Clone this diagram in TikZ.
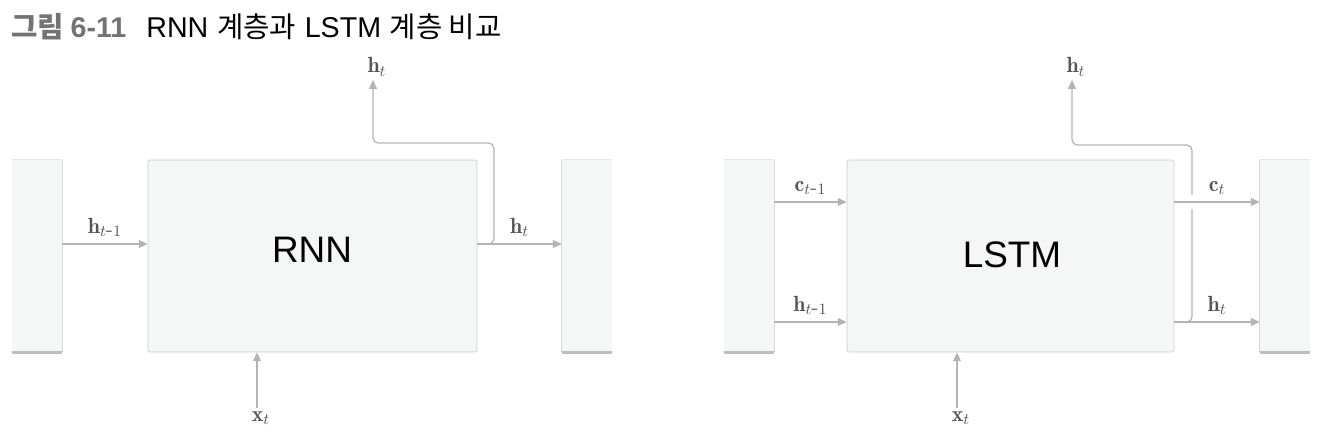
\documentclass[tikz,border=0pt]{standalone}
\usepackage{fontspec}
\usetikzlibrary{arrows.meta}

\newfontfamily\krfont{Noto Sans CJK KR}
\newfontfamily\boxfont{Liberation Sans}

\definecolor{boxfill}{RGB}{245,246,246}
\definecolor{boxline}{RGB}{205,205,205}
\definecolor{sidetop}{RGB}{230,230,230}
\definecolor{sideedge}{RGB}{215,215,215}
\definecolor{sidebottom}{RGB}{190,190,190}
\definecolor{arrowgray}{RGB}{180,180,180}
\definecolor{lblgray}{RGB}{85,85,85}
\definecolor{titlegray}{RGB}{115,115,115}

\tikzset{
    layer/.style={draw=boxline, fill=boxfill, line width=0.5pt, rounded corners=1pt,
        minimum height=3.84cm, inner sep=0pt},
    layertext/.style={inner sep=0pt, font=\boxfont\fontsize{21}{24}\selectfont},
    side/.style={fill=boxfill, minimum width=1cm, minimum height=3.84cm, inner sep=0pt},
    arr/.style={draw=arrowgray, line width=0.7pt, -{Triangle[length=5pt,width=4.5pt]}},
    lbl/.style={text=lblgray, inner sep=2pt, font=\fontsize{12.5}{15}\selectfont}
}

\begin{document}
\begin{tikzpicture}[x=0.02cm, y=-0.02cm]
    \useasboundingbox (0,0) rectangle (1322,440);

    % Title
    \node[anchor=base west, inner sep=0pt, font=\fontsize{16.3}{19}\selectfont] (title) at (11,37)
        {{\color{titlegray}\krfont\bfseries 그림 \boxfont\bfseries 6-11}\hspace{0.7em}%
         {\boxfont RNN} {\krfont 계층과} {\boxfont LSTM} {\krfont 계층 비교}};

    % ---------------- RNN ----------------
    \node[side] (rprev) at (37,256) {};
    \draw[sidetop, line width=0.5pt] (rprev.north west) -- (rprev.north east);
    \draw[sideedge, line width=0.9pt] (rprev.north east) -- (rprev.south east);
    \draw[sidebottom, line width=1.4pt] (rprev.south west) -- (rprev.south east);

    \node[side] (rnext) at (587,256) {};
    \draw[sidetop, line width=0.5pt] (rnext.north west) -- (rnext.north east);
    \draw[sideedge, line width=0.9pt] (rnext.north west) -- (rnext.south west);
    \draw[sidebottom, line width=1.4pt] (rnext.south west) -- (rnext.south east);

    \node[layer, minimum width=6.58cm] (rnn) at (312.5,256) {};
    \node[layertext] (rnntext) at (312,250) {RNN};

    \coordinate (rh) at (0,244);
    \coordinate (rbend) at (494,143);

    % Inputs
    \draw[arr] (rprev.east |- rh) -- (rnn.west |- rh)
        node[lbl, midway, above=2pt] (rhin) {$\mathbf{h}_{t\mbox{-}1}$};
    \node[lbl, anchor=north] (rx) at (261,408) {$\mathbf{x}_t$};
    \draw[arr] ([xshift=-0.08cm]rx.north) -- ([xshift=-0.08cm]rx.north |- rnn.south);

    % Outputs
    \node[lbl, anchor=south] (rhup) at (377,80) {$\mathbf{h}_t$};
    \draw[arr, rounded corners=3pt] (rnn.east |- rh) -| (rbend) -| ([xshift=-0.08cm]rhup.south);
    \draw[arr] (rnn.east |- rh) -- (rnext.west |- rh)
        node[lbl, midway, above=2pt] (rhout) {$\mathbf{h}_t$};

    % ---------------- LSTM ----------------
    \node[side] (lprev) at (749,256) {};
    \draw[sidetop, line width=0.5pt] (lprev.north west) -- (lprev.north east);
    \draw[sideedge, line width=0.9pt] (lprev.north east) -- (lprev.south east);
    \draw[sidebottom, line width=1.4pt] (lprev.south west) -- (lprev.south east);

    \node[side] (lnext) at (1285,256) {};
    \draw[sidetop, line width=0.5pt] (lnext.north west) -- (lnext.north east);
    \draw[sideedge, line width=0.9pt] (lnext.north west) -- (lnext.south west);
    \draw[sidebottom, line width=1.4pt] (lnext.south west) -- (lnext.south east);

    \node[layer, minimum width=6.54cm] (lstm) at (1010.5,256) {};
    \node[layertext] (lstmtext) at (1012,255) {LSTM};

    \coordinate (lc) at (0,202);
    \coordinate (lh) at (0,322);
    \coordinate (lbend) at (1192,145);

    % Inputs
    \draw[arr] (lprev.east |- lc) -- (lstm.west |- lc)
        node[lbl, midway, above=2pt] (lcin) {$\mathbf{c}_{t\mbox{-}1}$};
    \draw[arr] (lprev.east |- lh) -- (lstm.west |- lh)
        node[lbl, midway, above=2pt] (lhin) {$\mathbf{h}_{t\mbox{-}1}$};
    \node[lbl, anchor=north] (lx) at (961,408) {$\mathbf{x}_t$};
    \draw[arr] ([xshift=-0.08cm]lx.north) -- ([xshift=-0.08cm]lx.north |- lstm.south);

    % Outputs
    \node[lbl, anchor=south] (lhup) at (1076,80) {$\mathbf{h}_t$};
    \draw[arr, rounded corners=3pt] (lstm.east |- lh) -| (lbend) -| ([xshift=-0.08cm]lhup.south);
    \draw[arr] (lstm.east |- lh) -- (lnext.west |- lh)
        node[lbl, midway, above=2pt] (lhout) {$\mathbf{h}_t$};

    % gap where c_t crosses
    \draw[white, line width=4pt] (1192,195) -- (1192,209);
    \draw[arr] (lstm.east |- lc) -- (lnext.west |- lc)
        node[lbl, midway, above=2pt] (lcout) {$\mathbf{c}_t$};

\end{tikzpicture}
\end{document}
